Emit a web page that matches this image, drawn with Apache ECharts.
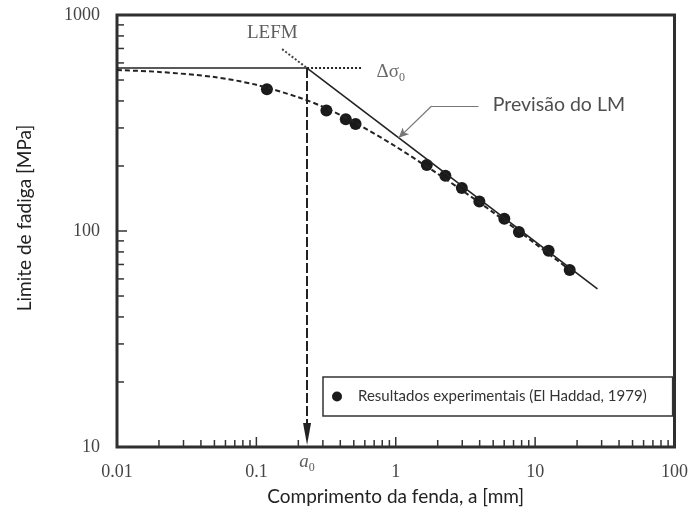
<!DOCTYPE html>
<html>
<head>
<meta charset="utf-8">
<script src="https://cdn.jsdelivr.net/npm/echarts@6/dist/echarts.min.js"></script>
<style>
  html, body { margin: 0; padding: 0; background: #fff; }
  #chart { width: 691px; height: 516px; }
</style>
</head>
<body>
<div id="chart"></div>
<script>
// Experimental fatigue limits vs crack length (El Haddad, 1979)
const crackLength = [0.119, 0.318, 0.438, 0.515, 1.67, 2.27, 2.98, 3.98, 6.01, 7.65, 12.5, 17.7];
const fatigueLimit = [453, 361, 329, 313, 202, 180, 158, 137, 114, 99, 81, 66];

// El Haddad model curve (dashed)
const curveA = [0.01, 0.02, 0.05, 0.1, 0.2, 0.3, 0.5, 1, 2, 3, 5, 10, 18];
const curveS = [556, 545, 516, 475, 416, 376, 320, 246, 184, 154, 122, 87.5, 65.5];

// Fatigue limit of the plain material and the intrinsic crack length
const deltaSigma0 = 568;
const a0 = 0.231;

// LEFM line: end points (dotted extension above a0, solid below)
const lefmDottedA = [0.153, a0];
const lefmDottedS = [695, deltaSigma0];
const lefmSolidA = [a0, 28];
const lefmSolidS = [deltaSigma0, 54];

// Threshold line: solid up to a0, dotted beyond
const thresholdSolidA = [0.01, a0];
const thresholdDottedA = [a0, 0.571];

// Axis ranges and tick labels
const xMin = 0.01, xMax = 100;
const yMin = 10, yMax = 1000;
const xTickLabels = ['0.01', '0.1', '1', '10', '100'];
const yTickLabels = ['10', '100', '1000'];

const legendName = 'Resultados experimentais (El Haddad, 1979)';

// tick values for major (decades) and minor (2..9) ticks
const tickMultipliers = [1, 2, 3, 4, 5, 6, 7, 8, 9];
function logTicks(lo, hi) {
  const out = [];
  for (let e = Math.round(Math.log10(lo)); e < Math.round(Math.log10(hi)); e++) {
    tickMultipliers.forEach(m => out.push(m * Math.pow(10, e)));
  }
  out.push(hi);
  return out;
}
const isDecade = v => Math.abs(Math.log10(v) - Math.round(Math.log10(v))) < 1e-6;
const tickData = [];
logTicks(xMin, xMax).forEach(v => tickData.push([v, yMin, 0, isDecade(v) ? 1 : 0]));
logTicks(yMin, yMax).forEach(v => tickData.push([xMin, v, 1, isDecade(v) ? 1 : 0]));

const serif = '"Liberation Serif", "DejaVu Serif", serif';
const sans = 'Lato, "Noto Sans", sans-serif';
const ink = '#222';

const chart = echarts.init(document.getElementById('chart'), null, { renderer: 'canvas' });

chart.setOption({
  animation: false,
  backgroundColor: '#fff',
  grid: {
    left: 117, right: 14, top: 15, bottom: 69,
    show: true, borderColor: '#2e2e2e', borderWidth: 3, backgroundColor: 'transparent'
  },
  legend: {
    data: [legendName],
    left: 323, top: 377,
    icon: 'circle', itemWidth: 10, itemHeight: 10,
    padding: [12, 26, 12, 9],
    borderColor: '#333', borderWidth: 1.5, backgroundColor: '#fff',
    textStyle: { fontFamily: sans, fontSize: 15, color: '#333', padding: [0, 0, 0, 11] }
  },
  xAxis: {
    type: 'log', logBase: 10, min: xMin, max: xMax,
    axisLine: { show: false }, axisTick: { show: false }, splitLine: { show: false },
    axisLabel: {
      fontFamily: serif, fontSize: 18, color: '#444', margin: 16,
      formatter: v => xTickLabels[Math.round(Math.log10(v)) + 2]
    },
    name: 'Comprimento da fenda, a [mm]', nameLocation: 'middle', nameGap: 40,
    nameTextStyle: { fontFamily: sans, fontSize: 19, color: ink }
  },
  yAxis: {
    type: 'log', logBase: 10, min: yMin, max: yMax,
    axisLine: { show: false }, axisTick: { show: false }, splitLine: { show: false },
    axisLabel: {
      fontFamily: serif, fontSize: 18, color: '#444', margin: 17,
      formatter: v => yTickLabels[Math.round(Math.log10(v)) - 1]
    },
    name: 'Limite de fadiga [MPa]', nameLocation: 'middle', nameGap: 83,
    nameTextStyle: { fontFamily: sans, fontSize: 19, color: ink, padding: [0, 0, 0, 26] }
  },
  series: [
    {
      // axis ticks drawn inward from the bottom and left frame
      type: 'custom', silent: true, z: 5,
      data: tickData,
      renderItem: (params, api) => {
        const p = api.coord([api.value(0), api.value(1)]);
        const len = api.value(3) ? 10 : 7;
        const horiz = api.value(2) === 1;
        return {
          type: 'line',
          shape: horiz
            ? { x1: p[0], y1: p[1], x2: p[0] + len, y2: p[1] }
            : { x1: p[0], y1: p[1], x2: p[0], y2: p[1] - len },
          style: { stroke: '#333', lineWidth: 1.5 }
        };
      }
    },
    {
      type: 'line', silent: true, symbol: 'none',
      data: thresholdSolidA.map(a => [a, deltaSigma0]),
      lineStyle: { color: ink, width: 1.5 }
    },
    {
      type: 'line', silent: true, symbol: 'none',
      data: thresholdDottedA.map(a => [a, deltaSigma0]),
      lineStyle: { color: ink, width: 2, type: [2, 2] }
    },
    {
      type: 'line', silent: true, symbol: 'none',
      data: lefmDottedA.map((a, i) => [a, lefmDottedS[i]]),
      lineStyle: { color: '#444', width: 2, type: [2, 2] }
    },
    {
      type: 'line', silent: true, symbol: 'none',
      data: lefmSolidA.map((a, i) => [a, lefmSolidS[i]]),
      lineStyle: { color: ink, width: 1.6 }
    },
    {
      type: 'line', silent: true, symbol: 'none', smooth: 0.3,
      data: curveA.map((a, i) => [a, curveS[i]]),
      lineStyle: { color: ink, width: 2, type: [5, 3] }
    },
    {
      name: legendName,
      type: 'scatter', symbol: 'circle', symbolSize: 12,
      itemStyle: { color: '#1a1a1a', opacity: 1 },
      data: crackLength.map((a, i) => [a, fatigueLimit[i]])
    },
    {
      // annotations: a0 arrow, leader line and text labels
      type: 'scatter', silent: true, clip: false, symbol: 'circle', symbolSize: 1,
      itemStyle: { color: 'rgba(0,0,0,0)' },
      data: [
        {
          value: [0.130, 826],
          label: { show: true, position: 'inside', formatter: 'LEFM',
                   fontFamily: serif, fontSize: 19, color: '#333' }
        },
        {
          value: [0.92, 545],
          label: { show: true, position: 'inside', formatter: '{m|Δσ}{s|0}',
                   rich: {
                     m: { fontFamily: serif, fontSize: 19, color: '#444' },
                     s: { fontFamily: serif, fontSize: 12, color: '#444', padding: [12, 0, 0, 0] }
                   } }
        },
        {
          value: [14.8, 383],
          label: { show: true, position: 'inside', formatter: 'Previsão do LM',
                   fontFamily: sans, fontSize: 19.5, color: ink }
        },
        {
          value: [a0, 8.55],
          label: { show: true, position: 'inside', formatter: '{m|a}{s|0}',
                   rich: {
                     m: { fontFamily: serif, fontSize: 19, fontStyle: 'italic', color: '#333' },
                     s: { fontFamily: serif, fontSize: 12, color: '#333', padding: [12, 0, 0, 0] }
                   } }
        }
      ],
      markLine: {
        silent: true, animation: false,
        label: { show: false },
        data: [
          [
            { coord: [a0, deltaSigma0], symbol: 'none' },
            { coord: [a0, 11.5], symbol: 'triangle', symbolSize: [8, 22],
              lineStyle: { color: ink, width: 2, type: [10, 3] } }
          ],
          [
            { coord: [3.92, 379], symbol: 'none' },
            { coord: [1.81, 379], symbol: 'none',
              lineStyle: { color: '#777', width: 1.2, type: 'solid' } }
          ],
          [
            { coord: [1.81, 379], symbol: 'none' },
            { coord: [1.05, 270], symbol: 'arrow', symbolSize: [7, 10],
              lineStyle: { color: '#777', width: 1.2, type: 'solid' } }
          ]
        ]
      }
    }
  ]
});
</script>
</body>
</html>
